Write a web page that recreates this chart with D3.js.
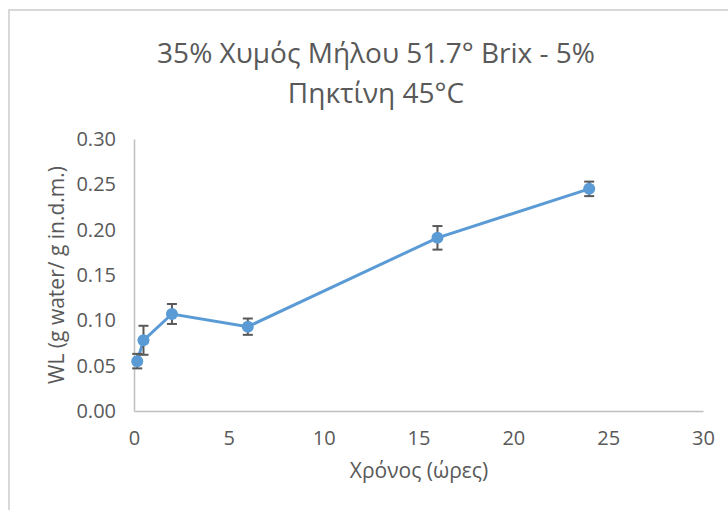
<!DOCTYPE html>
<html>
<head>
<meta charset="utf-8">
<script src="https://cdn.jsdelivr.net/npm/d3@7"></script>
<style>
  body { margin: 0; background: #fff; }
  svg { display: block; font-family: "Open Sans", sans-serif; }
</style>
</head>
<body>
<svg id="chart" width="728" height="510"></svg>
<script>
// chart data
const hours = [0.17, 0.5, 2, 6, 16, 24];
const wl = [0.055, 0.078, 0.107, 0.093, 0.191, 0.245];
const wlErr = [0.008, 0.016, 0.011, 0.009, 0.013, 0.008];
const xTicks = [0, 5, 10, 15, 20, 25, 30];
const yTicks = [0, 0.05, 0.10, 0.15, 0.20, 0.25, 0.30];
const titleLines = ["35% Χυμός Μήλου 51.7° Brix - 5%", "Πηκτίνη 45°C"];

const svg = d3.select("#chart");
const textColor = "#595959";
const axisColor = "#bfbfbf";
const blue = "#5b9bd5";

// outer chart frame (only top + left visible)
svg.append("path")
  .attr("d", "M9,510 V10 H728")
  .attr("fill", "none")
  .attr("stroke", "#d9d9d9")
  .attr("stroke-width", 2);

const x = d3.scaleLinear().domain([0, 30]).range([134, 703]);
const y = d3.scaleLinear().domain([0, 0.30]).range([411, 139]);

// title
svg.append("g").selectAll("text")
  .data(titleLines)
  .join("text")
  .attr("x", 376)
  .attr("y", (d, i) => 63 + i * 40)
  .attr("text-anchor", "middle")
  .attr("fill", textColor)
  .attr("font-size", 28)
  .text(d => d);

// axes
const xAxis = svg.append("g")
  .attr("transform", `translate(0,${y(0)})`)
  .call(d3.axisBottom(x).tickValues(xTicks).tickSize(0).tickPadding(20).tickFormat(d3.format("d")));
const yAxis = svg.append("g")
  .attr("transform", `translate(${x(0)},0)`)
  .call(d3.axisLeft(y).tickValues(yTicks).tickSize(0).tickPadding(18).tickFormat(d3.format(".2f")));

[xAxis, yAxis].forEach(g => {
  g.select(".domain").attr("stroke", axisColor).attr("stroke-width", 1.5);
  g.selectAll("text").attr("fill", textColor).attr("font-size", 20).attr("font-family", "Open Sans");
});

// axis titles
svg.append("text")
  .attr("x", 419)
  .attr("y", 478)
  .attr("text-anchor", "middle")
  .attr("fill", textColor)
  .attr("font-size", 21)
  .text("Χρόνος (ώρες)");

svg.append("text")
  .attr("transform", `translate(64,${(y(0) + y(0.30)) / 2}) rotate(-90)`)
  .attr("text-anchor", "middle")
  .attr("fill", textColor)
  .attr("font-size", 21)
  .text("WL (g water/ g in.d.m.)");

const pts = hours.map((h, i) => ({h, v: wl[i], e: wlErr[i]}));

// line
svg.append("path")
  .datum(pts)
  .attr("fill", "none")
  .attr("stroke", blue)
  .attr("stroke-width", 3)
  .attr("d", d3.line().x(d => x(d.h)).y(d => y(d.v)));

// error bars
const eb = svg.append("g").attr("stroke", "#595959").attr("stroke-width", 2);
eb.selectAll("line.v").data(pts).join("line").attr("class", "v")
  .attr("x1", d => x(d.h)).attr("x2", d => x(d.h))
  .attr("y1", d => y(d.v + d.e)).attr("y2", d => y(d.v - d.e));
eb.selectAll("line.t").data(pts).join("line").attr("class", "t")
  .attr("x1", d => x(d.h) - 5).attr("x2", d => x(d.h) + 5)
  .attr("y1", d => y(d.v + d.e)).attr("y2", d => y(d.v + d.e));
eb.selectAll("line.b").data(pts).join("line").attr("class", "b")
  .attr("x1", d => x(d.h) - 5).attr("x2", d => x(d.h) + 5)
  .attr("y1", d => y(d.v - d.e)).attr("y2", d => y(d.v - d.e));

// markers
svg.append("g").selectAll("circle")
  .data(pts)
  .join("circle")
  .attr("cx", d => x(d.h))
  .attr("cy", d => y(d.v))
  .attr("r", 6)
  .attr("fill", blue);
</script>
</body>
</html>
